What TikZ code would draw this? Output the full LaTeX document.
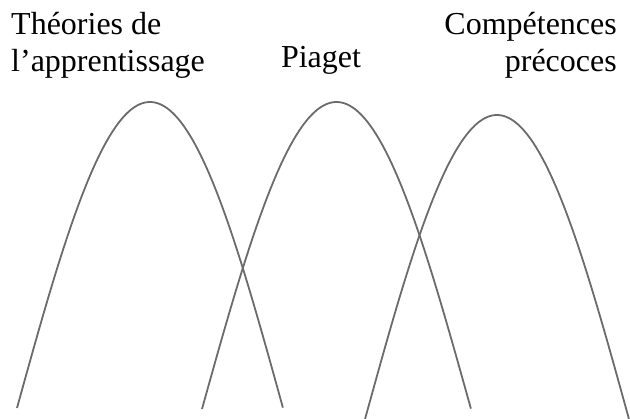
\documentclass[tikz,border=0pt]{standalone}
\usepackage{fontspec}
\setmainfont{Liberation Serif}
\begin{document}
\begin{tikzpicture}[x=1pt,y=-1pt,
  arch/.style={draw=black!58,line width=1.8pt},
  lbl/.style={inner sep=0pt,font=\fontsize{32}{36.5}\selectfont}]
\useasboundingbox (0,0) rectangle (630,419);
\begin{scope}
\clip (0,0) rectangle (630,419);
\draw[arch] plot[domain=-1:1,samples=120,smooth] ({150+133*\x},{408-306*cos(90*\x)});
\draw[arch] plot[domain=-1:1,samples=120,smooth] ({336.5+134.5*\x},{409-307*cos(90*\x)});
\draw[arch] plot[domain=-1:1,samples=120,smooth] ({497+132.5*\x},{421-306*cos(90*\x)});
\end{scope}
\node[lbl,anchor=base west,align=left] (theo) at (11,71.5) {Théories de\\l’apprentissage};
\node[lbl,anchor=base] (piaget) at (321,67.5) {Piaget};
\node[lbl,anchor=base east,align=right] (comp) at (617,71.5) {Compétences\\précoces};
\end{tikzpicture}
\end{document}
